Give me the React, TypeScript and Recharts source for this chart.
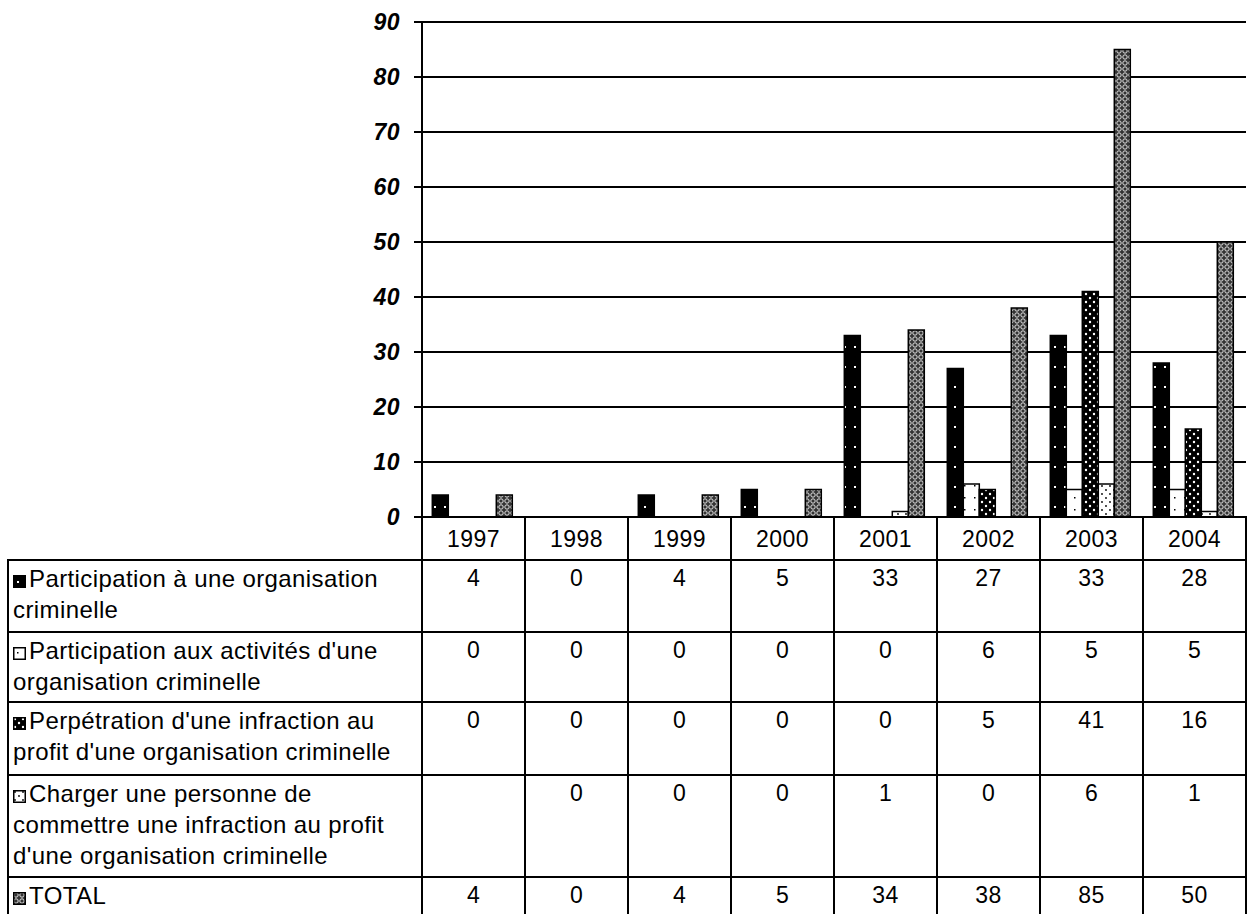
import { BarChart, Bar, XAxis, YAxis, CartesianGrid } from "recharts";

const years = ["1997", "1998", "1999", "2000", "2001", "2002", "2003", "2004"];
const participation = [4, 0, 4, 5, 33, 27, 33, 28];
const activites = [0, 0, 0, 0, 0, 6, 5, 5];
const perpetration = [0, 0, 0, 0, 0, 5, 41, 16];
const charger: (number | null)[] = [null, 0, 0, 0, 1, 0, 6, 1];
const total = [4, 0, 4, 5, 34, 38, 85, 50];
const yTicks = [0, 10, 20, 30, 40, 50, 60, 70, 80, 90];

const series = [
  { key: "s1", pat: "pA", values: participation, lines: ["Participation à une organisation", "criminelle"] },
  { key: "s2", pat: "pB", values: activites, lines: ["Participation aux activités d'une", "organisation criminelle"] },
  { key: "s3", pat: "pC", values: perpetration, lines: ["Perpétration d'une infraction au", "profit d'une organisation criminelle"] },
  {
    key: "s4",
    pat: "pD",
    values: charger,
    lines: ["Charger une personne de", "commettre une infraction au profit", "d'une organisation criminelle"],
  },
  { key: "s5", pat: "pE", values: total, lines: ["TOTAL"] },
];

const rowHeights = [72, 70, 73, 102, 44];

const data = years.map((y, i) => {
  const row: Record<string, string | number | null> = { year: y };
  series.forEach((s) => (row[s.key] = s.values[i]));
  return row;
});

// fill patterns, reused by bars and legend keys
const Patterns = ({ suffix = "" }: { suffix?: string }) => (
  <>
    <pattern id={"pA" + suffix} width="10" height="20" patternUnits="userSpaceOnUse">
      <rect width="10" height="20" fill="#000" />
      <rect x="4" y="6" width="2" height="2" fill="#fff" />
    </pattern>
    <pattern id={"pB" + suffix} width="10" height="12" patternUnits="userSpaceOnUse">
      <rect width="10" height="12" fill="#fff" />
      <rect x="4" y="5" width="1.5" height="1.5" fill="#000" />
    </pattern>
    <pattern id={"pC" + suffix} width="8" height="8" patternUnits="userSpaceOnUse">
      <rect width="8" height="8" fill="#000" />
      <circle cx="2" cy="2" r="1.2" fill="#fff" />
      <circle cx="6" cy="6" r="1.2" fill="#fff" />
    </pattern>
    <pattern id={"pD" + suffix} width="8" height="8" patternUnits="userSpaceOnUse">
      <rect width="8" height="8" fill="#fff" />
      <circle cx="2" cy="2" r="0.9" fill="#000" />
      <circle cx="6" cy="6" r="0.9" fill="#000" />
    </pattern>
    <pattern id={"pE" + suffix} width="6" height="6" patternUnits="userSpaceOnUse">
      <rect width="6" height="6" fill="#333" />
      <circle cx="3" cy="3" r="2.2" fill="none" stroke="#e0e0e0" strokeWidth="1" />
    </pattern>
  </>
);

const Swatch = ({ pat }: { pat: string }) => (
  <svg width="13" height="13" style={{ verticalAlign: "-1px", marginRight: 3 }}>
    <defs>
      <Patterns suffix="sw" />
    </defs>
    <rect x="0.75" y="0.75" width="11.5" height="11.5" fill={`url(#${pat}sw)`} stroke="#000" strokeWidth="1.5" />
  </svg>
);

const FONT = "'Liberation Sans', Arial, sans-serif";
const LEFT = 7;
const PLOT_L = 422;
const COL_W = 103;
const B = "2px solid #000";

export default function App() {
  let top = 560;
  return (
    <div
      style={{
        position: "absolute",
        left: 0,
        top: 0,
        width: 1254,
        height: 914,
        overflow: "hidden",
        background: "#fff",
        fontFamily: FONT,
      }}
    >
      <svg width="0" height="0" style={{ position: "absolute" }}>
        <defs>
          <Patterns />
        </defs>
      </svg>
      <div style={{ position: "absolute", left: 0, top: 0 }}>
        <BarChart
          width={1254}
          height={540}
          data={data}
          margin={{ top: 22, right: 8, left: 0, bottom: 23 }}
          barCategoryGap="10%"
          barGap={0}
        >
          <CartesianGrid vertical={false} stroke="#000" strokeWidth={2} />
          <XAxis dataKey="year" hide />
          <YAxis
            width={PLOT_L}
            domain={[0, 90]}
            ticks={yTicks}
            interval={0}
            tickSize={8}
            tickMargin={14}
            axisLine={{ stroke: "#000", strokeWidth: 2 }}
            tickLine={{ stroke: "#000", strokeWidth: 2 }}
            tick={{
              fill: "#000",
              fontSize: 23,
              fontWeight: "bold",
              fontStyle: "italic",
              fontFamily: FONT,
              letterSpacing: 0.5,
            }}
          />
          {series.map((s) => (
            <Bar
              key={s.key}
              dataKey={s.key}
              fill={`url(#${s.pat})`}
              stroke="#000"
              strokeWidth={1.5}
              isAnimationActive={false}
            />
          ))}
        </BarChart>
      </div>

      {/* header row with years */}
      {years.map((y, i) => (
        <div
          key={y}
          style={{
            position: "absolute",
            left: PLOT_L + i * COL_W - 1,
            top: 516,
            width: COL_W + 2,
            height: 45,
            border: B,
            borderBottom: "none",
            display: "flex",
            alignItems: "center",
            justifyContent: "center",
            fontSize: 23,
            letterSpacing: 0.4,
            boxSizing: "border-box",
            background: "#fff",
          }}
        >
          {y}
        </div>
      ))}

      {series.map((s, r) => {
        const h = rowHeights[r];
        const t = top;
        top += h;
        return (
          <div key={s.key}>
            <div
              style={{
                position: "absolute",
                left: LEFT,
                top: t - 1,
                width: PLOT_L - LEFT + 1,
                height: h + 2,
                border: B,
                boxSizing: "border-box",
                padding: "2px 0 0 4px",
                fontSize: 24,
                letterSpacing: 0.4,
                lineHeight: "31px",
                whiteSpace: "nowrap",
              }}
            >
              {s.lines.map((ln, k) => (
                <div key={k}>
                  {k === 0 && <Swatch pat={s.pat} />}
                  {ln}
                </div>
              ))}
            </div>
            {years.map((y, i) => (
              <div
                key={y}
                style={{
                  position: "absolute",
                  left: PLOT_L + i * COL_W - 1,
                  top: t - 1,
                  width: COL_W + 2,
                  height: h + 2,
                  border: B,
                  boxSizing: "border-box",
                  paddingTop: 2,
                  textAlign: "center",
                  fontSize: 23,
                  letterSpacing: 0.4,
                  lineHeight: "31px",
                }}
              >
                {s.values[i] === null ? "" : s.values[i]}
              </div>
            ))}
          </div>
        );
      })}
    </div>
  );
}
